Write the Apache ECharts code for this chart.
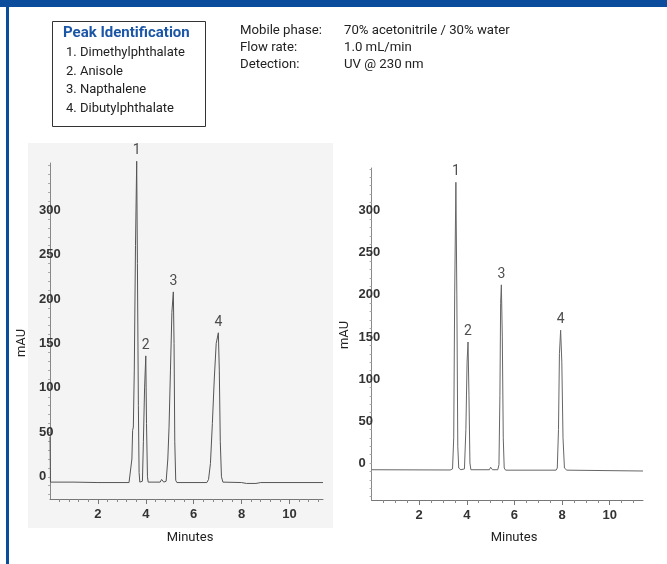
<!DOCTYPE html>
<html>
<head>
<meta charset="utf-8">
<script src="https://cdn.jsdelivr.net/npm/echarts@6/dist/echarts.min.js"></script>
<style>
html,body{margin:0;padding:0;background:#fff;}
#chart{width:667px;height:564px;}
</style>
</head>
<body>
<div id="chart"></div>
<script>
// ---- Data ----
const peakIds = ['Peak Identification', '1. Dimethylphthalate', '2. Anisole', '3. Napthalene', '4. Dibutylphthalate'];
const conditionNames = ['Mobile phase:', 'Flow rate:', 'Detection:'];
const conditionValues = ['70% acetonitrile / 30% water', '1.0 mL/min', 'UV @ 230 nm'];
const peakLabels = ['1', '2', '3', '4'];
const xTickLabels = [2, 4, 6, 8, 10];
const yTickLabels = [0, 50, 100, 150, 200, 250, 300];

// Left chromatogram (minutes, mAU)
const leftTime = [0, 0.02, 1.0, 2.0, 3.3, 3.38, 3.42, 3.45, 3.48, 3.52, 3.57, 3.62, 3.65, 3.69, 3.72, 3.75, 3.80,
  3.86, 3.90, 3.95, 4.00, 4.03, 4.07, 4.10, 4.60, 4.66, 4.70, 4.75, 4.85, 4.92, 4.97, 5.03, 5.09, 5.15, 5.18, 5.21, 5.25, 5.30,
  6.55, 6.62, 6.70, 6.78, 6.86, 6.94, 7.03, 7.07, 7.11, 7.16, 7.22, 8.0, 8.2, 8.6, 8.8, 11.4];
const leftSignal = [45, -6, -6, -6.5, -6.5, -5, 20, 52, 56, 120, 260, 355, 240, 80, 5, -6, -6,
  -5, 40, 100, 136, 60, 0, -6, -6, -3, -2, -6, -5, 20, 55, 120, 185, 208, 150, 40, -4, -6.5,
  -6.5, -3, 15, 60, 110, 150, 162, 120, 40, 0, -6, -6.5, -7.5, -7.5, -6.5, -6.5];
const leftPeakTime = [3.62, 4.00, 5.15, 7.03];
const leftPeakHeight = [355, 136, 208, 162];

// Right chromatogram (minutes, mAU)
const rightTime = [0, 3.3, 3.4, 3.45, 3.49, 3.54, 3.58, 3.62, 3.66, 3.75, 3.90, 3.96, 4.01, 4.05, 4.09, 4.13, 4.17,
  4.95, 5.00, 5.04, 5.08, 5.30, 5.35, 5.39, 5.42, 5.45, 5.49, 5.53, 5.57, 5.63, 7.75, 7.80, 7.85, 7.89, 7.94, 7.99, 8.04, 8.10, 8.20, 11.4];
const rightSignal = [-8, -8.3, -7, 30, 200, 334, 200, 20, -6, -8, -7, 40, 120, 144, 80, 0, -8,
  -8, -5, -4, -8, -8, -2, 80, 190, 212, 150, 30, -6, -8.5, -8.5, -6, 40, 130, 158, 120, 30, -6, -8.5, -9.5];
const rightPeakTime = [3.54, 4.05, 5.45, 7.94];
const rightPeakHeight = [334, 144, 212, 158];

// ---- Build ----
const pairs = (a, b) => a.map((t, i) => [t, b[i]]);
const labelPts = (a, b) => a.map((t, i) => ({ value: [t, b[i]], name: peakLabels[i] }));
function ticks(from, to, step) { const r = []; for (let v = from; v <= to + 1e-9; v += step) r.push(+v.toFixed(3)); return r; }

const TXT = 'Roboto, "Noto Sans", sans-serif';
const BLUE = '#0b4c9c';
const axisTxt = { fontFamily: '"Liberation Sans", Arial, sans-serif', fontWeight: 'bold', fontSize: 13, color: '#333' };

function xAxes(grid, minorStep) {
  return [
    { type: 'value', gridIndex: grid, position: 'bottom', min: 0, max: 11.4,
      axisLine: { show: true, onZero: false, lineStyle: { color: '#777', width: 1 } },
      axisTick: { show: true, customValues: ticks(minorStep, 11.2, minorStep), length: 3, lineStyle: { color: '#888' } },
      axisLabel: Object.assign({ customValues: xTickLabels, margin: 9 }, axisTxt),
      splitLine: { show: false } },
    { type: 'value', gridIndex: grid, position: 'bottom', min: 0, max: 11.4,
      axisLine: { show: false, onZero: false },
      axisTick: { show: true, customValues: xTickLabels, length: 5, lineStyle: { color: '#777' } },
      axisLabel: { show: false }, splitLine: { show: false } }
  ];
}
function yAxis(grid, min, max, margin) {
  return { type: 'value', gridIndex: grid, min: min, max: max,
    axisLine: { show: true, onZero: false, lineStyle: { color: '#888', width: 1 } },
    axisTick: { show: true, customValues: ticks(Math.ceil(min / 10) * 10, 350, 10), length: 2, lineStyle: { color: '#aaa' } },
    axisLabel: Object.assign({ customValues: yTickLabels, align: 'left', margin: margin }, axisTxt),
    splitLine: { show: false } };
}

const chart = echarts.init(document.getElementById('chart'), null, { renderer: 'canvas' });

const graphics = [
  { type: 'rect', shape: { x: 28, y: 143, width: 305, height: 385 }, style: { fill: '#f4f4f4' }, z: -10, silent: true },
  { type: 'rect', shape: { x: 0, y: 0, width: 667, height: 7 }, style: { fill: BLUE }, silent: true },
  { type: 'rect', shape: { x: 6, y: 0, width: 3, height: 564 }, style: { fill: BLUE }, silent: true },
  { type: 'rect', shape: { x: 52.5, y: 21.5, width: 153, height: 105 }, style: { fill: '#fff', stroke: '#333', lineWidth: 1 }, silent: true },
  { type: 'text', x: 63, y: 33.5, style: { text: peakIds[0], font: 'bold 15px ' + TXT, fill: '#1b56a6', verticalAlign: 'middle' } }
];
for (let i = 1; i < peakIds.length; i++) {
  graphics.push({ type: 'text', x: 66, y: 52.7 + (i - 1) * 18.6, style: { text: peakIds[i], font: '13px ' + TXT, fill: '#222', verticalAlign: 'middle' } });
}
for (let i = 0; i < conditionNames.length; i++) {
  graphics.push({ type: 'text', x: 240, y: 30.5 + i * 17, style: { text: conditionNames[i], font: '13.2px ' + TXT, fill: '#222', verticalAlign: 'middle' } });
  graphics.push({ type: 'text', x: 344, y: 30.5 + i * 17, style: { text: conditionValues[i], font: '13.2px ' + TXT, fill: '#222', verticalAlign: 'middle' } });
}
graphics.push(
  { type: 'text', x: 22, y: 343, rotation: Math.PI / 2, style: { text: 'mAU', font: '13px ' + TXT, fill: '#222', align: 'center', verticalAlign: 'middle' } },
  { type: 'text', x: 345, y: 335, rotation: Math.PI / 2, style: { text: 'mAU', font: '13px ' + TXT, fill: '#222', align: 'center', verticalAlign: 'middle' } },
  { type: 'text', x: 190, y: 538, style: { text: 'Minutes', font: '13px ' + TXT, fill: '#222', align: 'center', verticalAlign: 'middle' } },
  { type: 'text', x: 514, y: 538, style: { text: 'Minutes', font: '13px ' + TXT, fill: '#222', align: 'center', verticalAlign: 'middle' } }
);

const peakLabelStyle = { show: true, position: 'top', distance: 3, formatter: '{b}', fontFamily: TXT, fontSize: 14, color: '#222' };

chart.setOption({
  animation: false,
  backgroundColor: '#fff',
  grid: [
    { left: 50, top: 163, width: 273, height: 336 },
    { left: 371.6, top: 168, width: 271.4, height: 332 }
  ],
  xAxis: xAxes(0, 0.4).concat(xAxes(1, 0.5)),
  yAxis: [yAxis(0, -25, 353, 11), yAxis(1, -44, 351, 13)],
  graphic: { elements: graphics },
  series: [
    { type: 'line', xAxisIndex: 0, yAxisIndex: 0, data: pairs(leftTime, leftSignal), showSymbol: false, symbol: 'none',
      lineStyle: { color: '#555', width: 1 }, z: 3, clip: false },
    { type: 'line', xAxisIndex: 2, yAxisIndex: 1, data: pairs(rightTime, rightSignal), showSymbol: false, symbol: 'none',
      lineStyle: { color: '#666', width: 1 }, z: 3, clip: false },
    { type: 'scatter', xAxisIndex: 0, yAxisIndex: 0, data: labelPts(leftPeakTime, leftPeakHeight), symbolSize: 1,
      itemStyle: { color: 'transparent' }, label: peakLabelStyle, silent: true, clip: false },
    { type: 'scatter', xAxisIndex: 2, yAxisIndex: 1, data: labelPts(rightPeakTime, rightPeakHeight), symbolSize: 1,
      itemStyle: { color: 'transparent' }, label: peakLabelStyle, silent: true, clip: false }
  ]
});
</script>
</body>
</html>
